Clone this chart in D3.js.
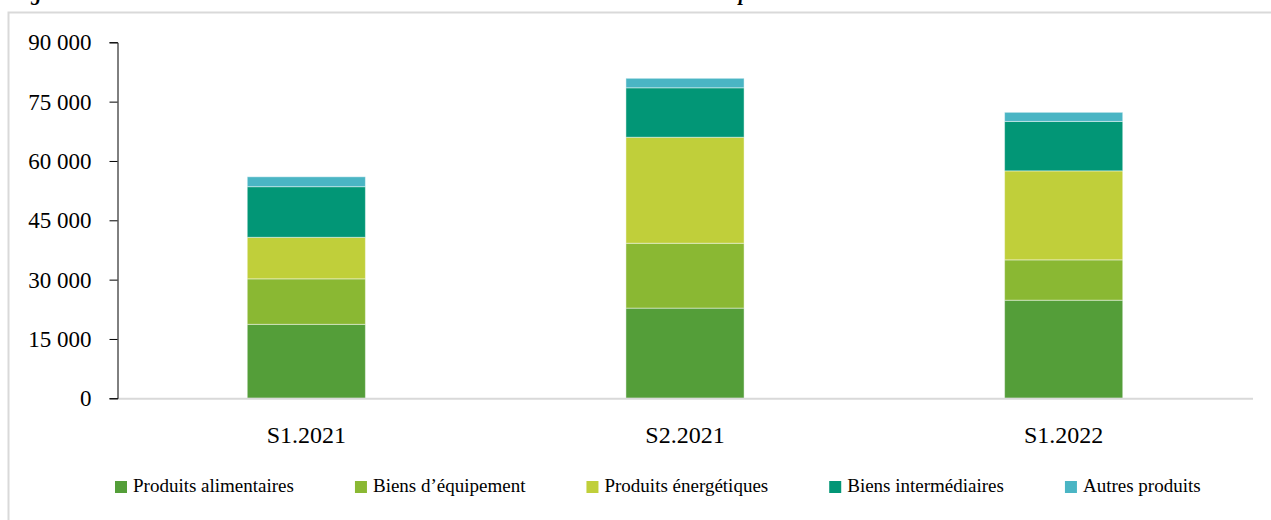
<!DOCTYPE html>
<html>
<head>
<meta charset="utf-8">
<script src="https://cdn.jsdelivr.net/npm/d3@7"></script>
<style>
  html, body { margin: 0; padding: 0; background: #fff; }
  svg { display: block; }
</style>
</head>
<body>
<svg id="chart" width="1271" height="520"></svg>
<script>
const categories = ["S1.2021", "S2.2021", "S1.2022"];
const seriesNames = ["Produits alimentaires", "Biens d\u2019équipement", "Produits énergétiques", "Biens intermédiaires", "Autres produits"];
const produitsAlimentaires = [18700, 22800, 24800];
const biensEquipement = [11500, 16400, 10200];
const produitsEnergetiques = [10500, 26800, 22500];
const biensIntermediaires = [12800, 12500, 12500];
const autresProduits = [2500, 2400, 2300];
const yTicks = [0, 15000, 30000, 45000, 60000, 75000, 90000];
const colors = ["#549E39", "#8AB833", "#C0CF3A", "#029676", "#4AB5C4"];
const titleText = "Figure 3 : Évolution semestrielle en millions de dirhams des achats totaux suivant les produits";

const seriesValues = [produitsAlimentaires, biensEquipement, produitsEnergetiques, biensIntermediaires, autresProduits];
const rows = categories.map((c, i) => {
  const r = { cat: c };
  seriesNames.forEach((s, j) => r[s] = seriesValues[j][i]);
  return r;
});

const svg = d3.select("#chart");
const serif = "'Liberation Serif', 'Times New Roman', serif";

// frame
svg.append("rect")
  .attr("x", 8.5).attr("y", 12.5)
  .attr("width", 1300).attr("height", 600)
  .attr("fill", "none").attr("stroke", "#d9d9d9").attr("stroke-width", 2);

// cut-off title (only descenders visible, as in the reference)
svg.append("text")
  .attr("x", 12).attr("y", 0)
  .attr("font-family", serif).attr("font-size", 20.5)
  .attr("font-weight", "bold").attr("font-style", "italic")
  .attr("fill", "#000")
  .text(titleText);

const x = d3.scaleBand().domain(categories).range([117, 1253])
  .paddingInner(0.688).paddingOuter(0.344);
const y = d3.scaleLinear().domain([0, 90000]).range([398.3, 42.3]);

const stacked = d3.stack().keys(seriesNames)(rows);

// bars
svg.append("g").selectAll("g")
  .data(stacked)
  .join("g")
  .attr("fill", (d, i) => colors[i])
  .selectAll("rect")
  .data(d => d)
  .join("rect")
  .attr("x", d => x(d.data.cat))
  .attr("width", x.bandwidth())
  .attr("y", d => y(d[1]))
  .attr("height", d => y(d[0]) - y(d[1]))
  .attr("stroke", "rgba(255,255,255,0.45)")
  .attr("stroke-width", 1);

// x axis baseline
svg.append("line")
  .attr("x1", 117).attr("x2", 1253)
  .attr("y1", y(0) + 0.5).attr("y2", y(0) + 0.5)
  .attr("stroke", "#d9d9d9").attr("stroke-width", 2);

// y axis
const fmt = v => d3.format(",")(v).replace(/,/g, " ");
const yAxis = d3.axisLeft(y).tickValues(yTicks).tickSize(8).tickFormat(fmt);
const gy = svg.append("g").attr("transform", "translate(117.5,0)").call(yAxis);
gy.select(".domain").attr("stroke", "#000").attr("stroke-width", 1);
gy.selectAll(".tick line").attr("stroke", "#000");
gy.selectAll(".tick text")
  .attr("font-family", serif).attr("font-size", 23).attr("fill", "#000")
  .attr("x", -26).attr("dy", "0.33em");

// x labels
svg.append("g").selectAll("text")
  .data(categories)
  .join("text")
  .attr("x", d => x(d) + x.bandwidth() / 2)
  .attr("y", 443)
  .attr("text-anchor", "middle")
  .attr("font-family", serif).attr("font-size", 24).attr("fill", "#000")
  .text(d => d);

// legend
const lg = svg.append("g");
let lx = 115;
seriesNames.forEach((s, i) => {
  lg.append("rect").attr("x", lx).attr("y", 481).attr("width", 12).attr("height", 12).attr("fill", colors[i]);
  const t = lg.append("text").attr("x", lx + 18).attr("y", 492)
    .attr("font-family", serif).attr("font-size", 19).attr("fill", "#000").text(s);
  lx += 18 + t.node().getComputedTextLength() + 61;
});
</script>
</body>
</html>
